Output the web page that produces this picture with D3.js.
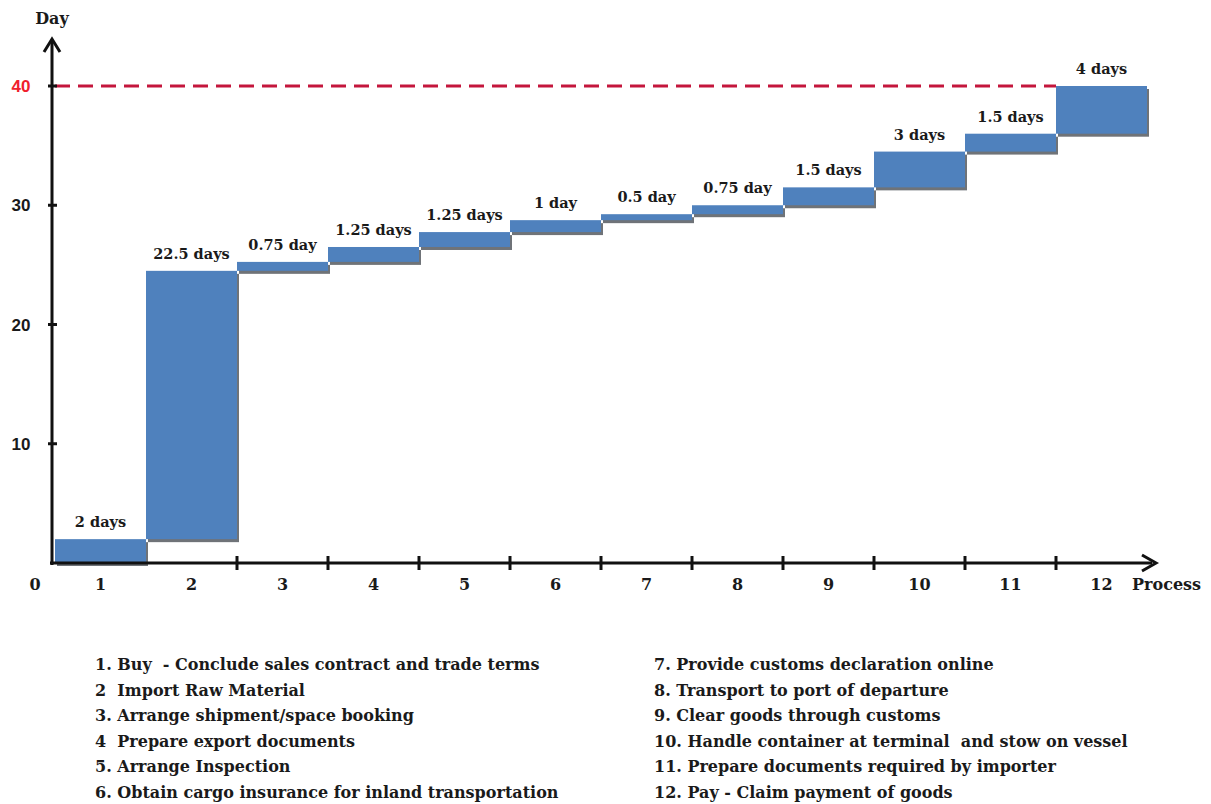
<!DOCTYPE html>
<html><head><meta charset="utf-8">
<script src="https://cdn.jsdelivr.net/npm/d3@7"></script>
<style>
body{margin:0;background:#fff;}
svg{display:block;}
text{font-family:"DejaVu Serif","Liberation Serif",serif;font-weight:bold;fill:#1a1a1a;white-space:pre;}
</style></head>
<body>
<svg id="chart" width="1211" height="804"></svg>
<script>
const processes = ["1","2","3","4","5","6","7","8","9","10","11","12"];
const durations = [2, 22.5, 0.75, 1.25, 1.25, 1, 0.5, 0.75, 1.5, 3, 1.5, 4];
const durationLabels = ["2 days","22.5 days","0.75 day","1.25 days","1.25 days","1 day","0.5 day","0.75 day","1.5 days","3 days","1.5 days","4 days"];
const yTicks = [10, 20, 30, 40];
const targetDays = 40;
const legendLeft = [
  "1. Buy  - Conclude sales contract and trade terms",
  "2  Import Raw Material",
  "3. Arrange shipment/space booking",
  "4  Prepare export documents",
  "5. Arrange Inspection",
  "6. Obtain cargo insurance for inland transportation"
];
const legendRight = [
  "7. Provide customs declaration online",
  "8. Transport to port of departure",
  "9. Clear goods through customs",
  "10. Handle container at terminal  and stow on vessel",
  "11. Prepare documents required by importer",
  "12. Pay - Claim payment of goods"
];

// cumulative start/end
let acc = 0;
const steps = durations.map((d, i) => { const s = acc; acc += d; return {p: processes[i], start: s, end: acc, label: durationLabels[i]}; });

const svg = d3.select("#chart");
const x = d3.scaleBand().domain(processes).range([55, 1147]).padding(0);
const y = d3.scaleLinear().domain([0, 40]).range([563, 86]);

// red target line
svg.append("line")
  .attr("x1", 55).attr("x2", x("12"))
  .attr("y1", y(targetDays)).attr("y2", y(targetDays))
  .attr("stroke", "#C4163C").attr("stroke-width", 3).attr("stroke-dasharray", "15,8");

// bar shadows
svg.selectAll("rect.sh").data(steps).enter().append("rect").attr("class","sh")
  .attr("x", d => x(d.p) + 2).attr("y", d => y(d.end) + 3)
  .attr("width", x.bandwidth()).attr("height", d => y(d.start) - y(d.end))
  .attr("fill", "#6f7378");
// bars
svg.selectAll("rect.bar").data(steps).enter().append("rect").attr("class","bar")
  .attr("x", d => x(d.p)).attr("y", d => y(d.end))
  .attr("width", x.bandwidth()).attr("height", d => y(d.start) - y(d.end))
  .attr("fill", "#4F81BD");

// bar labels
svg.selectAll("text.bl").data(steps).enter().append("text").attr("class","bl")
  .attr("x", d => x(d.p) + x.bandwidth()/2).attr("y", d => y(d.end) - 12)
  .attr("text-anchor", "middle").attr("font-size", 14.5).text(d => d.label);

// x axis line
const axisY = y(0);
svg.append("line").attr("x1", 50).attr("x2", 1152).attr("y1", axisY).attr("y2", axisY)
  .attr("stroke", "#111").attr("stroke-width", 3);
svg.append("path").attr("d", `M1142,${axisY-8} L1156,${axisY} L1142,${axisY+8}`)
  .attr("fill","none").attr("stroke","#111").attr("stroke-width",3);
// x ticks at boundaries
svg.selectAll("line.xt").data(processes.slice(2)).enter().append("line").attr("class","xt")
  .attr("x1", d => x(d)).attr("x2", d => x(d))
  .attr("y1", axisY - 7).attr("y2", axisY + 7)
  .attr("stroke","#111").attr("stroke-width",3);
svg.selectAll("text.xl").data(processes).enter().append("text").attr("class","xl")
  .attr("x", d => x(d) + x.bandwidth()/2).attr("y", axisY + 27)
  .attr("text-anchor","middle").attr("font-size",16).text(d => d);
svg.append("text").attr("x", 35).attr("y", axisY + 27).attr("text-anchor","middle").attr("font-size",16).text("0");
svg.append("text").attr("x", 1132).attr("y", axisY + 27).attr("font-size",16).text("Process");

// y axis
svg.append("line").attr("x1", 52).attr("x2", 52).attr("y1", axisY + 2).attr("y2", 40)
  .attr("stroke","#111").attr("stroke-width",3);
svg.append("path").attr("d", `M44,52 L52,39 L60,52`).attr("fill","none").attr("stroke","#111").attr("stroke-width",3);
svg.selectAll("line.yt").data(yTicks).enter().append("line").attr("class","yt")
  .attr("x1", 48).attr("x2", 57).attr("y1", d => y(d)).attr("y2", d => y(d))
  .attr("stroke","#111").attr("stroke-width",3);
svg.selectAll("text.yl").data(yTicks).enter().append("text").attr("class","yl")
  .attr("x", 21).attr("y", d => y(d) + 6).attr("text-anchor","middle").attr("font-size",17)
  .style("fill", d => d === targetDays ? "#F0202C" : "#1a1a1a")
  .style("font-family", "'Liberation Sans', Arial, sans-serif")
  .text(d => d);
svg.append("text").attr("x", 52).attr("y", 24).attr("text-anchor","middle").attr("font-size",16).text("Day");

// legend
svg.selectAll("text.ll").data(legendLeft).enter().append("text").attr("class","ll")
  .attr("x", 95).attr("y", (d,i) => 670 + i*25.5).attr("font-size",16).text(d => d);
svg.selectAll("text.lr").data(legendRight).enter().append("text").attr("class","lr")
  .attr("x", 654).attr("y", (d,i) => 670 + i*25.5).attr("font-size",16).text(d => d);
</script>
</body></html>
